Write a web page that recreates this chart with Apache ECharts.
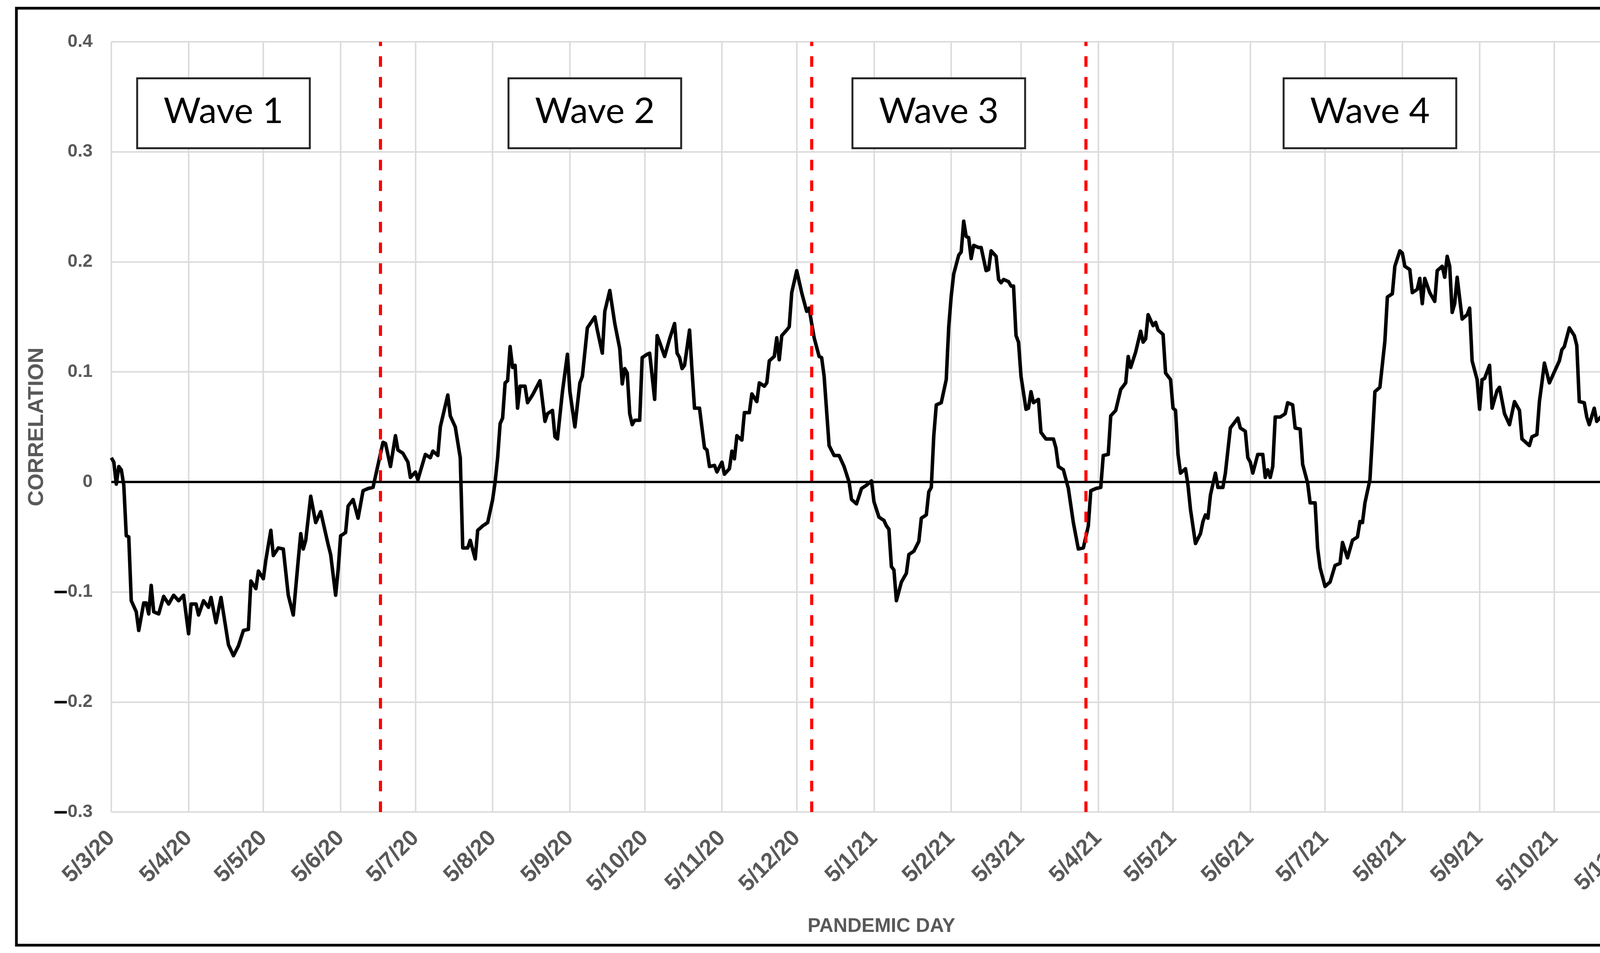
<!DOCTYPE html>
<html><head><meta charset="utf-8">
<script src="https://cdn.jsdelivr.net/npm/echarts@6/dist/echarts.min.js"></script>
<style>html,body{margin:0;padding:0;background:#fff;overflow:hidden}#chart{width:4332px;height:2440px}</style>
</head><body><div id="chart"></div>
<script>
// ---- data ----
const startYMD = [2020, 3, 5];          // category index 0 = 5 March 2020
const dayCount = 619;                   // last category = 13 Nov 2021
const yMin = -0.3, yMax = 0.4, yStep = 0.1;

const days = [0,1,2,3,4,5,6,7,8,10,11,13,14,15,16,17,19,21,23,25,27,29,31,32,34,35,37,39,40,42,44,47,49,51,53,55,56,58,59,61,62,64,65,67,69,71,73,75,76,77,78,80,82,84,87,88,90,91,92,94,95,97,99,101,103,
105,109,110,112,114,115,117,119,120,122,123,126,128,129,131,132,135,136,138,140,141,143,144,146,147,149,151,153,154,155,156,157,158,159,160,161,162,163,164,166,167,169,172,174,175,177,178,179,181,183,184,186,188,189,191,194,195,197,198,200,202,204,205,
206,207,208,209,210,212,213,215,216,218,219,220,222,224,226,227,228,229,230,232,233,234,236,238,239,240,242,243,245,246,248,249,250,251,253,254,256,257,259,260,262,263,264,266,267,268,269,271,272,273,275,277,279,280,281,282,284,285,286,288,290,292,294,296,297,299,301,303,305,306,308,310,
311,312,313,314,315,317,319,320,322,324,325,327,328,329,330,331,333,335,336,337,338,340,341,342,343,344,345,346,348,349,351,352,353,355,356,357,358,360,361,362,363,364,365,367,368,369,370,372,373,375,378,379,380,382,384,386,388,390,392,393,395,397,398,400,401,403,405,407,408,409,411,413,414,
415,416,418,419,420,422,423,425,426,427,428,429,431,432,433,435,437,438,439,440,441,443,444,446,447,449,450,452,453,455,456,457,458,460,462,463,464,465,466,467,469,471,472,474,475,477,478,480,481,483,484,485,487,489,491,493,494,496,498,500,501,502,503,505,506,507,509,511,512,514,515,517,
518,519,521,522,524,525,526,527,529,531,532,534,535,536,537,538,539,540,542,544,545,546,548,549,550,551,553,554,556,557,559,561,563,565,566,569,570,572,573,574,575,577,579,581,582,583,585,587,588,589,591,592,593,595,596,598,599,601,603,605,606,608,609,610,612,613,615,617,618];

const corr = [0.022,0.018,-0.002,0.014,0.011,-0.003,-0.049,-0.050,-0.108,-0.118,-0.135,-0.110,-0.110,-0.120,-0.094,-0.118,-0.120,-0.104,-0.111,-0.103,-0.108,-0.103,-0.138,-0.111,-0.111,-0.121,-0.108,-0.114,-0.105,-0.128,-0.105,-0.148,-0.158,-0.149,-0.135,-0.134,-0.090,-0.097,-0.081,-0.088,-0.071,-0.044,-0.067,-0.060,-0.061,-0.103,-0.121,-0.071,-0.047,-0.061,-0.053,-0.013,-0.037,-0.027,-0.057,-0.066,-0.103,-0.080,-0.049,-0.046,-0.022,-0.016,-0.033,-0.008,-0.006,
-0.005,0.036,0.035,0.014,0.042,0.029,0.026,0.018,0.004,0.009,0.002,0.025,0.022,0.028,0.024,0.050,0.079,0.060,0.050,0.022,-0.060,-0.060,-0.053,-0.070,-0.044,-0.040,-0.037,-0.016,0.000,0.022,0.053,0.058,0.090,0.092,0.123,0.104,0.106,0.067,0.087,0.087,0.072,0.079,0.092,0.055,0.062,0.065,0.041,0.039,0.082,0.116,0.082,0.050,0.090,0.096,0.140,0.150,0.138,0.117,0.155,0.174,0.144,0.121,0.089,
0.103,0.099,0.062,0.052,0.056,0.056,0.113,0.116,0.117,0.075,0.133,0.127,0.114,0.130,0.144,0.117,0.113,0.103,0.106,0.138,0.101,0.067,0.067,0.031,0.029,0.014,0.015,0.009,0.018,0.007,0.012,0.028,0.021,0.042,0.038,0.063,0.063,0.080,0.073,0.090,0.087,0.090,0.110,0.114,0.131,0.111,0.133,0.138,0.141,0.172,0.192,0.172,0.155,0.158,0.144,0.131,0.114,0.113,0.096,0.033,0.024,0.024,0.014,0.000,-0.016,-0.020,-0.006,-0.003,0.001,-0.018,-0.032,-0.035,
-0.040,-0.043,-0.077,-0.080,-0.108,-0.091,-0.083,-0.066,-0.063,-0.054,-0.033,-0.030,-0.009,-0.005,0.042,0.070,0.072,0.093,0.141,0.169,0.189,0.206,0.209,0.237,0.223,0.222,0.203,0.215,0.213,0.213,0.192,0.193,0.210,0.205,0.184,0.181,0.184,0.182,0.178,0.178,0.133,0.127,0.096,0.066,0.067,0.082,0.072,0.075,0.045,0.039,0.039,0.031,0.014,0.011,-0.006,-0.037,-0.061,-0.060,-0.040,-0.008,-0.006,-0.005,0.024,0.025,0.060,0.065,0.084,0.090,0.114,0.104,0.118,0.137,0.127,
0.130,0.152,0.142,0.145,0.138,0.134,0.099,0.093,0.067,0.065,0.025,0.008,0.012,-0.003,-0.025,-0.056,-0.047,-0.036,-0.030,-0.033,-0.012,0.008,-0.005,-0.005,0.008,0.049,0.052,0.058,0.049,0.046,0.022,0.018,0.008,0.025,0.025,0.004,0.011,0.004,0.014,0.059,0.059,0.062,0.072,0.070,0.049,0.048,0.016,-0.001,-0.019,-0.019,-0.060,-0.078,-0.095,-0.091,-0.076,-0.074,-0.055,-0.069,-0.053,-0.050,-0.036,-0.037,-0.019,0.002,0.041,0.082,0.086,0.128,0.168,0.171,0.196,0.210,
0.208,0.196,0.193,0.172,0.175,0.185,0.162,0.185,0.172,0.164,0.192,0.196,0.186,0.205,0.196,0.154,0.162,0.186,0.148,0.152,0.158,0.110,0.093,0.066,0.093,0.094,0.106,0.067,0.083,0.086,0.062,0.052,0.073,0.065,0.039,0.033,0.041,0.043,0.073,0.090,0.108,0.090,0.100,0.110,0.120,0.123,0.140,0.133,0.124,0.073,0.072,0.059,0.052,0.067,0.055,0.060,0.038,0.038,0.052,0.060,0.053,0.056,0.024,0.019,-0.012,-0.019,-0.010,0.016,0.011];

const waveNames = ['Wave 1', 'Wave 2', 'Wave 3', 'Wave 4'];
const waveCenterDays = [44.5, 193.8, 332, 505];
const waveCenterValue = 0.335;
const waveBreakDays = [108, 281, 391];

// ---- build ----
const categories = [];
for (let i = 0; i < dayCount; i++) {
  const d = new Date(Date.UTC(startYMD[0], startYMD[1] - 1, startYMD[2] + i));
  categories.push(d.getUTCDate() + '/' + (d.getUTCMonth() + 1) + '/' + String(d.getUTCFullYear()).slice(2));
}
const monthTick = (idx, val) => String(val).split('/')[0] === '5';

const FONT = '"Liberation Sans", Arial, sans-serif';
const GREY = '#595959';

const chart = echarts.init(document.getElementById('chart'), null, {renderer: 'canvas'});
const option = {
  animation: false,
  backgroundColor: '#ffffff',
  grid: {left: 285, right: 104, top: 107, bottom: 361, containLabel: false},
  xAxis: {
    type: 'category',
    data: categories,
    boundaryGap: false,
    name: 'PANDEMIC DAY',
    nameLocation: 'middle',
    nameGap: 268,
    nameTextStyle: {fontFamily: FONT, fontWeight: 'bold', fontSize: 50, color: GREY},
    axisLine: {show: true, lineStyle: {color: '#d9d9d9', width: 5}},
    axisTick: {show: false},
    axisLabel: {interval: monthTick, rotate: 45, margin: 58, fontFamily: FONT, fontWeight: 'bold', fontSize: 58, color: GREY},
    splitLine: {show: true, interval: monthTick, lineStyle: {color: '#dcdcdc', width: 4}}
  },
  yAxis: {
    type: 'value',
    min: yMin, max: yMax, interval: yStep,
    name: 'CORRELATION',
    nameLocation: 'middle',
    nameGap: 162,
    nameRotate: 90,
    nameTextStyle: {fontFamily: FONT, fontWeight: 'bold', fontSize: 56, color: GREY},
    axisLine: {show: false},
    axisTick: {show: false},
    axisLabel: {
      margin: 48, fontFamily: FONT, fontWeight: 'bold', fontSize: 46, color: GREY,
      formatter: v => {
        const r = Math.round(v * 10) / 10;
        if (r < 0) return '{m|\u2013}' + String(Math.abs(r));
        return String(r);
      },
      rich: {m: {color: '#000', fontWeight: 'bold', fontSize: 64, fontFamily: FONT, verticalAlign: 'middle'}}
    },
    splitLine: {show: true, lineStyle: {color: '#dcdcdc', width: 4}}
  },
  series: [
    {
      type: 'line', name: 'zero', data: [], z: 1,
      markLine: {silent: true, symbol: 'none', animation: false, label: {show: false},
        lineStyle: {color: '#000', type: 'solid', width: 6}, data: [{yAxis: 0}]}
    },
    {
      type: 'line', name: 'Correlation', z: 3,
      data: days.map((d, i) => [d, corr[i]]),
      showSymbol: false, symbol: 'none', smooth: false,
      lineStyle: {color: '#000', width: 9, join: 'round'}
    },
    {
      type: 'line', name: 'breaks', data: [], z: 4,
      markLine: {silent: true, symbol: 'none', animation: false, label: {show: false}, z: 6,
        lineStyle: {color: '#ff0000', type: [27, 26], width: 8},
        data: waveBreakDays.map(d => ({xAxis: d}))}
    }
  ]
};
chart.setOption(option);

const graphics = [{
  type: 'rect', z: 100, silent: true,
  shape: {x: 42, y: 21, width: 4258, height: 2399},
  style: {fill: 'none', stroke: '#000', lineWidth: 7}
}];
waveNames.forEach((name, i) => {
  const p = chart.convertToPixel({gridIndex: 0}, [waveCenterDays[i], waveCenterValue]);
  const w = 442, h = 179;
  graphics.push({
    type: 'rect', z: 50, silent: true,
    shape: {x: p[0] - w / 2, y: p[1] - h / 2, width: w, height: h},
    style: {fill: '#fff', stroke: '#262626', lineWidth: 5}
  });
  graphics.push({
    type: 'text', z: 51, silent: true,
    x: p[0], y: p[1] - 5,
    style: {text: name, fill: '#000', fontSize: 92, fontFamily: 'Lato, "Liberation Sans", sans-serif', align: 'center', verticalAlign: 'middle'}
  });
});
chart.setOption({graphic: graphics});
</script></body></html>
